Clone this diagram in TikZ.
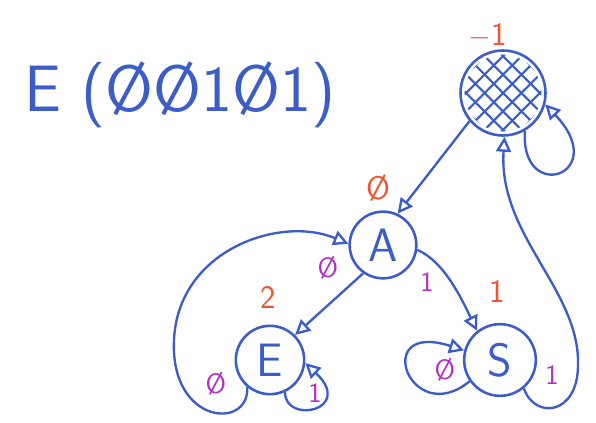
\documentclass[tikz,border=0pt]{standalone}
\usepackage{tikz}
\definecolor{inkblue}{HTML}{3C5CC8}
\definecolor{inkred}{HTML}{EE5530}
\definecolor{inkpurple}{HTML}{B030C0}
\usetikzlibrary{arrows.meta}
\tikzset{
	mstate/.style={circle, draw=inkblue, line width=2.2pt, inner sep=0pt,
		text=inkblue, font=\sffamily\fontsize{40}{40}\selectfont},
	marr/.style={-{Triangle[open, length=4.5mm, width=4.5mm]}, line width=2pt, draw=inkblue},
	mcost/.style={text=inkred, font=\sffamily\fontsize{28}{28}\selectfont},
	msym/.style={text=inkpurple, font=\sffamily\fontsize{24}{24}\selectfont}
}

\begin{document}
\begin{tikzpicture}[x=0.03cm, y=-0.03cm]
	\useasboundingbox (0,0) rectangle (596,422);
	\node[text=inkblue, font=\sffamily\fontsize{56}{56}\selectfont] (word) at (180,95) {E (ØØ1Ø1)};
	\node[mstate, minimum size=2.55cm] (dead) at (503,93) {};
	\begin{scope}[shift={(503,93)}, rotate=45]
		\clip (0,0) circle[radius=1.15cm];
		\foreach \d in {-39,-26,...,39} {
			\draw[inkblue, line width=1.8pt] (\d,-40) -- (\d,40);
			\draw[inkblue, line width=1.8pt] (-40,\d) -- (40,\d);
		}
	\end{scope}
	\node[mstate, minimum size=2cm] (A) at (383,245) {A};
	\node[mstate, minimum size=2.05cm] (E) at (270,360) {E};
	\node[mstate, minimum size=2.15cm] (S) at (500,360) {S};
	% costs
	\node[mcost] (cdead) at (488,36) {$-$1};
	\node[mcost] (cA) at (378,188) {Ø};
	\node[mcost] (cE) at (268,297) {2};
	\node[mcost] (cS) at (497,291) {1};
	% transitions
	\draw[marr] (dead.220) -- (A.65);
	\draw[marr] (dead.-60) .. controls (520,205) and (612,175) .. (dead.-15);
	\draw[marr] (A.235) -- (E.45);
	\draw[marr] (A.-8) .. controls (445,262) and (462,300) .. (S.128);
	\draw[marr] (E.-65) .. controls (285,425) and (355,410) .. (E.-5);
	\draw[marr] (E.-130) .. controls (250,430) and (170,425) .. (174,340)
		.. controls (178,250) and (280,215) .. (A.178);
	\draw[marr] (S.215) .. controls (410,430) and (370,320) .. (S.165);
	\draw[marr] (S.-50) .. controls (535,420) and (578,415) .. (578,365)
		.. controls (580,290) and (498,235) .. (dead.-88);
	\node[msym] (sAE) at (328,268) {Ø};
	\node[msym] (sAS) at (427,282) {1};
	\node[msym] (sEE) at (315,393) {1};
	\node[msym] (sEA) at (216,384) {Ø};
	\node[msym] (sSS) at (445,370) {Ø};
	\node[msym] (sSd) at (552,375) {1};
\end{tikzpicture}
\end{document}
